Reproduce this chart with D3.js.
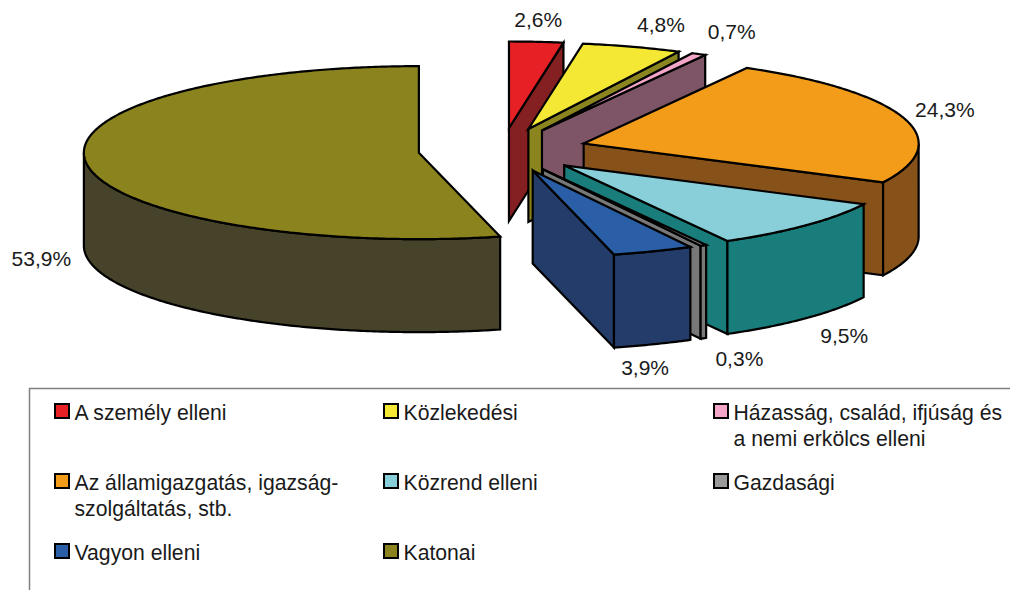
<!DOCTYPE html>
<html><head><meta charset="utf-8">
<script src="https://cdn.jsdelivr.net/npm/d3@7/dist/d3.min.js"></script>
<style>html,body{margin:0;padding:0;background:#fff;overflow:hidden}svg{display:block}text{font-family:"Liberation Sans",Arial,sans-serif;fill:#1a1a1a}</style>
</head><body><svg id="c" width="1010" height="590"></svg>
<script>
const categories=["A személy elleni","Közlekedési","Házasság, család, ifjúság és a nemi erkölcs elleni","Az államigazgatás, igazság-szolgáltatás, stb.","Közrend elleni","Gazdasági","Vagyon elleni","Katonai"];
const legendLines=[["A személy elleni"],["Közlekedési"],["Házasság, család, ifjúság és","a nemi erkölcs elleni"],["Az államigazgatás, igazság-","szolgáltatás, stb."],["Közrend elleni"],["Gazdasági"],["Vagyon elleni"],["Katonai"]];
const values=[2.6,4.8,0.7,24.3,9.5,0.3,3.9,53.9];
const topColors=["#E62024","#F5E834","#F4A6C8","#F39C1A","#88CFD9","#9A9A9A","#2A5FA8","#8B831E"];
const sideColors=["#852022","#8B851F","#7D5566","#875219","#197D7B","#787878","#233C69","#46432A"];
const explodes=[0.255,0.255,0.255,0.255,0.257,0.255,0.255,0.25];
// layout
const cx=502,cy=150,Rx=335,Ry=86.5,depth=93;
const labelNudge=[[2,-22],[29,-22],[33,-23],[41,-9],[38,17],[36,20],[-8,23],[-45,2]];
const fs=21,legendFs=21.2;
const svg=d3.select("#c");
const pie=d3.pie().sort(null).value(d=>d)(values);
const line=d3.line();
const colX=[55,384,714],rowY=[404,474,544];
const slices=pie.map((p,i)=>{const mid=(p.startAngle+p.endAngle)/2;
  return {i,a0:p.startAngle,a1:p.endAngle,mid,value:p.value,
    ax:cx+explodes[i]*Rx*Math.sin(mid),ay:cy-explodes[i]*Ry*Math.cos(mid)};});
const rim=(s,a)=>[s.ax+Rx*Math.sin(a),s.ay-Ry*Math.cos(a)];
const arcPts=(s,a,b)=>{const n=Math.max(2,Math.ceil(Math.abs(b-a)/0.01));return d3.range(n+1).map(k=>rim(s,a+(b-a)*k/n));};
const g=svg.append("g").attr("stroke","#000").attr("stroke-width",2.2).attr("stroke-linejoin","miter");
const order=[7,0,1,2,3,4,5,6];
order.forEach(i=>{const s=slices[i];
  if(s.a1>0.02&&s.a1<Math.PI){const r=rim(s,s.a1);
    g.append("path").attr("fill",sideColors[i]).attr("d",line([[s.ax,s.ay],r,[r[0],r[1]+depth],[s.ax,s.ay+depth]])+"Z");}
  const f0=Math.max(s.a0,Math.PI/2),f1=Math.min(s.a1,Math.PI*1.5);
  if(f1>f0){const t=arcPts(s,f0,f1);const b=t.slice().reverse().map(q=>[q[0],q[1]+depth]);
    g.append("path").attr("fill",sideColors[i]).attr("d",line(t.concat(b))+"Z");}
  g.append("path").attr("fill",topColors[i]).attr("d",line([[s.ax,s.ay]].concat(arcPts(s,s.a0,s.a1)))+"Z");
});
slices.forEach(s=>{const front=s.mid>Math.PI/2&&s.mid<Math.PI*1.5;const r=rim(s,s.mid);
  svg.append("text").attr("x",r[0]+labelNudge[s.i][0]).attr("y",r[1]+(front?depth:0)+labelNudge[s.i][1])
   .attr("text-anchor","middle").attr("dominant-baseline","central").attr("font-size",fs)
   .text(String(s.value.toFixed(1)).replace(".",",")+"%");});
svg.append("path").attr("fill","none").attr("stroke","#808080").attr("stroke-width",1.5).attr("d",line([[29.5,590],[29.5,388.5],[1010,388.5]]));
categories.forEach((c,i)=>{const x=colX[i%3],y=rowY[Math.floor(i/3)];
  svg.append("rect").attr("x",x).attr("y",y).attr("width",14).attr("height",14).attr("fill",topColors[i]).attr("stroke","#000").attr("stroke-width",2);
  legendLines[i].forEach((t,k)=>svg.append("text").attr("x",x+19.5).attr("y",y+16+k*26).attr("font-size",legendFs).text(t));
});
</script></body></html>
